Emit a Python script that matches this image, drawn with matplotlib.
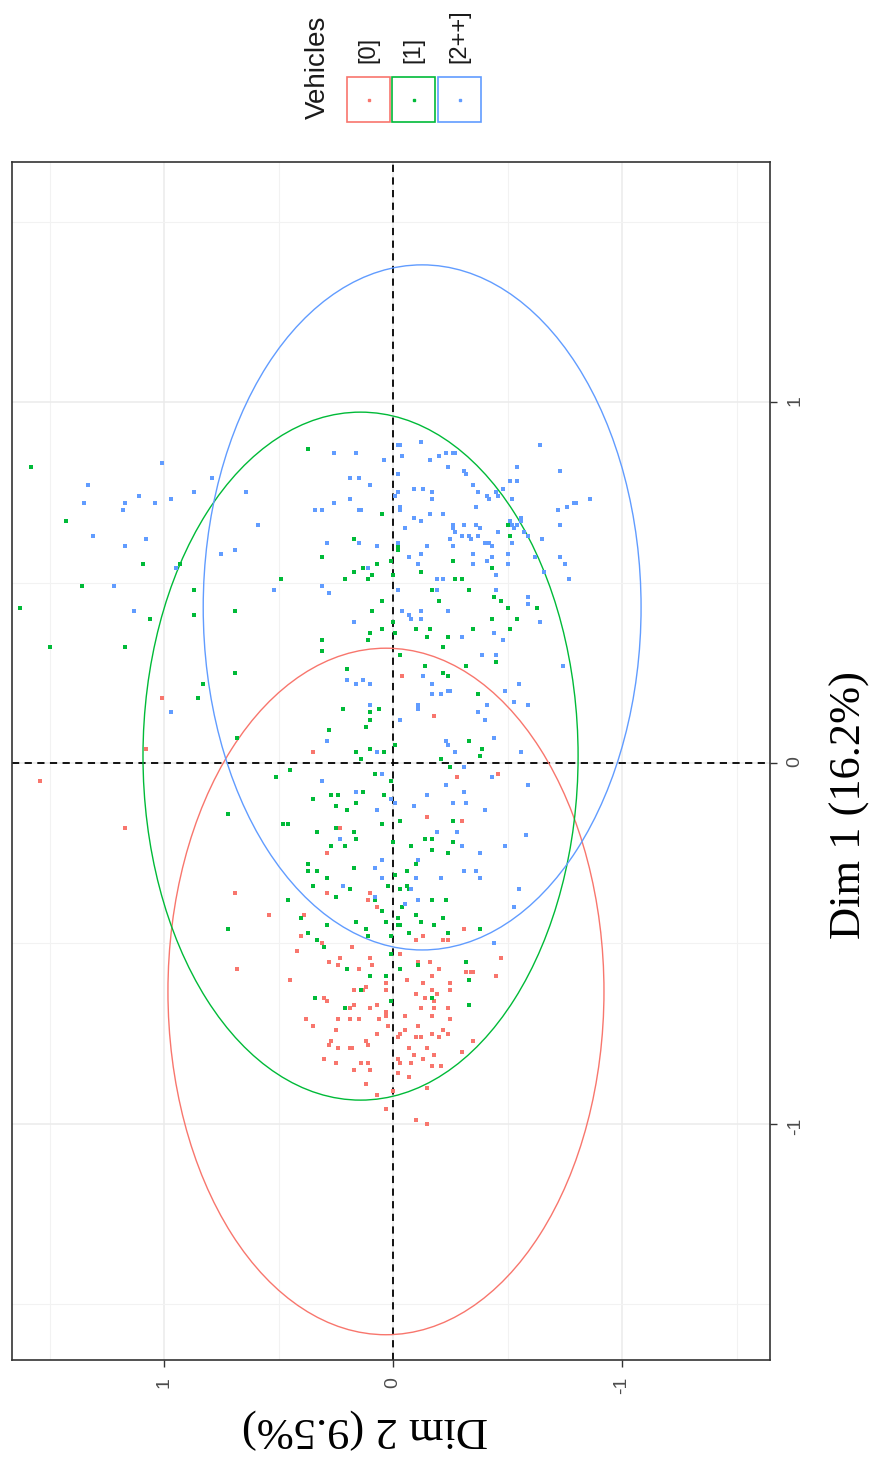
import matplotlib
matplotlib.use('Agg')
import matplotlib.pyplot as plt
from matplotlib.patches import Ellipse, Rectangle
from matplotlib.lines import Line2D

plt.rcParams['axes.unicode_minus'] = False

## Groups and ggplot default colours
groups = ['[0]', '[1]', '[2++]']
colors = ['#F8766D', '#00BA38', '#619CFF']

## Individuals as (Dim 1, Dim 2)
red_pts = [
    (0.18, 1.01), (0.04, 1.08), (-0.05, 1.54), (-0.18, 1.17),
    (0.03, 0.35), (-0.09, 0.24), (-0.18, 0.23), (-0.25, 0.29),
    (0.24, -0.04), (0.13, -0.18), (-0.04, -0.28), (-0.03, -0.46), (-0.15, -0.15), (-0.16, -0.30),
    (-0.36, 0.69), (-0.42, 0.54), (-0.57, 0.68), (-0.42, 0.39), (-0.36, 0.29), (-0.48, 0.40),
    (-0.52, 0.42), (-0.50, 0.31), (-0.55, 0.28), (-0.56, 0.24), (-0.54, 0.23), (-0.60, 0.45),
    (-0.65, 0.30), (-0.66, 0.29), (-0.71, 0.38), (-0.73, 0.35), (-0.71, 0.24), (-0.74, 0.25),
    (-0.77, 0.27), (-0.78, 0.28), (-0.79, 0.24), (-0.82, 0.30), (-0.83, 0.25), (-0.68, 0.19),
    (-0.71, 0.19), (-0.79, 0.19),
    (-0.38, 0.11), (-0.36, 0.10), (-0.40, 0.07), (-0.51, 0.18), (-0.54, 0.10), (-0.56, 0.09),
    (-0.57, 0.15), (-0.63, 0.17), (-0.62, 0.12), (-0.63, 0.13), (-0.67, 0.17), (-0.68, 0.10),
    (-0.67, 0.07), (-0.71, 0.15), (-0.71, 0.06), (-0.61, 0.03), (-0.63, 0.03), (-0.69, 0.03),
    (-0.70, 0.03), (-0.73, 0.02), (-0.75, 0.07), (-0.77, 0.12), (-0.78, 0.11), (-0.79, 0.18),
    (-0.83, 0.14), (-0.83, 0.11), (-0.85, 0.17), (-0.85, 0.10), (-0.89, 0.12), (-0.92, 0.07),
    (-0.96, 0.03),
    (-0.53, -0.03), (-0.55, -0.11), (-0.55, -0.16), (-0.57, -0.20), (-0.59, -0.17), (-0.60, -0.06),
    (-0.61, -0.13), (-0.61, -0.25), (-0.63, -0.17), (-0.64, -0.19), (-0.63, -0.25), (-0.64, -0.10),
    (-0.65, -0.14), (-0.66, -0.18), (-0.68, -0.18), (-0.68, -0.24), (-0.68, -0.12), (-0.70, -0.17),
    (-0.70, -0.05), (-0.71, -0.25), (-0.74, -0.05), (-0.73, -0.11), (-0.74, -0.22), (-0.75, -0.03),
    (-0.76, -0.02), (-0.76, -0.10), (-0.76, -0.12), (-0.75, -0.17), (-0.76, -0.20), (-0.75, -0.24),
    (-0.79, -0.07), (-0.79, -0.15), (-0.81, -0.09), (-0.82, -0.13), (-0.81, -0.18), (-0.82, -0.02),
    (-0.83, -0.03), (-0.83, -0.08), (-0.84, -0.17), (-0.84, -0.21), (-0.80, -0.30), (-0.86, -0.02),
    (-0.87, -0.07), (-0.90, -0.15), (-0.91, 0.00), (-0.99, -0.10), (-1.00, -0.15),
    (-0.46, -0.31), (-0.49, -0.10), (-0.48, -0.13), (-0.49, -0.22), (-0.49, -0.24), (-0.58, -0.32),
    (-0.58, -0.34), (-0.58, -0.35), (-0.59, -0.45), (-0.54, -0.47), (-0.77, -0.35),
]

green_pts = [
    (0.82, 1.58), (0.67, 1.43), (0.55, 1.09), (0.55, 0.93), (0.49, 1.36), (0.48, 0.87),
    (0.43, 1.63), (0.40, 1.06), (0.41, 0.87), (0.32, 1.50), (0.32, 1.17),
    (0.87, 0.37), (0.69, 0.05), (0.62, 0.17), (0.57, 0.31), (0.53, 0.17), (0.55, 0.07),
    (0.52, 0.09), (0.51, 0.11), (0.51, 0.21), (0.51, 0.49), (0.56, 0.01), (0.59, -0.02),
    (0.52, 0.00), (0.45, 0.05), (0.42, 0.09), (0.42, 0.69), (0.37, 0.05), (0.36, 0.10),
    (0.34, 0.11), (0.34, 0.31), (0.31, 0.31), (0.39, 0.00), (0.36, -0.01), (0.25, 0.69),
    (0.26, 0.20), (0.54, 0.13),
    (0.65, -0.38), (0.66, -0.50), (0.63, -0.51), (0.60, -0.02), (0.56, -0.26), (0.53, -0.12),
    (0.54, -0.43), (0.51, -0.27), (0.51, -0.30), (0.48, -0.17), (0.48, -0.33), (0.46, -0.44),
    (0.45, -0.47), (0.45, -0.20), (0.43, -0.50), (0.43, -0.63), (0.40, -0.43), (0.40, -0.54),
    (0.37, -0.10), (0.37, -0.16), (0.37, -0.35), (0.37, -0.51), (0.35, -0.15), (0.35, -0.24),
    (0.32, -0.22), (0.30, -0.03),
    (0.22, 0.83), (0.18, 0.85),
    (0.15, 0.22), (0.15, 0.06), (0.14, 0.10), (0.12, 0.10), (0.09, 0.28), (0.10, 0.12),
    (0.07, 0.68), (0.03, 0.16), (0.04, 0.10), (0.03, 0.04), (0.01, 0.14), (-0.02, 0.45),
    (-0.04, 0.51), (-0.03, 0.08), (-0.10, 0.35), (-0.09, 0.27), (-0.09, 0.24), (-0.08, 0.13),
    (-0.11, 0.16), (-0.12, 0.25), (-0.13, 0.20), (-0.09, 0.04), (-0.14, 0.72), (-0.17, 0.48),
    (-0.17, 0.46), (-0.17, 0.05), (-0.19, 0.33), (-0.18, 0.25), (-0.19, 0.17), (-0.21, 0.16),
    (-0.23, 0.21), (-0.23, 0.27), (-0.28, 0.37), (-0.30, 0.37), (-0.30, 0.33), (-0.32, 0.29),
    (-0.29, 0.17), (-0.34, 0.35), (-0.35, 0.19), (-0.34, 0.02), (-0.05, 0.01), (-0.16, -0.03),
    (0.27, -0.14), (0.25, -0.22), (0.24, -0.24), (0.27, -0.32), (0.28, -0.45), (0.19, -0.37),
    (0.05, -0.01), (0.06, -0.33), (0.04, -0.39), (0.02, -0.38), (0.01, -0.21), (-0.01, -0.25),
    (-0.16, -0.26), (-0.21, -0.14), (-0.21, -0.17), (-0.22, -0.26), (-0.23, -0.08), (-0.24, -0.17),
    (-0.25, -0.24), (-0.28, -0.10), (-0.30, -0.06), (-0.31, -0.01), (-0.34, -0.06), (-0.22, 0.00),
    (-0.46, 0.72), (-0.38, 0.46), (-0.37, 0.25), (-0.43, 0.40), (-0.47, 0.37), (-0.49, 0.33),
    (-0.45, 0.29), (-0.51, 0.30), (-0.57, 0.20), (-0.65, 0.34), (-0.68, 0.21),
    (-0.35, -0.03), (-0.35, -0.07), (-0.38, 0.08), (-0.40, -0.04), (-0.41, 0.05), (-0.38, -0.17),
    (-0.38, -0.23), (-0.42, -0.10), (-0.44, 0.16), (-0.44, 0.03), (-0.43, -0.02), (-0.45, -0.02),
    (-0.45, -0.03), (-0.44, -0.12), (-0.45, -0.18), (-0.43, -0.22), (-0.46, 0.12), (-0.47, -0.07),
    (-0.47, -0.24), (-0.46, -0.38), (-0.48, 0.11), (-0.48, 0.01), (-0.53, 0.01), (-0.56, -0.11),
    (-0.57, -0.03), (-0.59, 0.10), (-0.59, 0.03), (-0.55, -0.32), (-0.60, -0.33), (-0.63, 0.14),
    (-0.65, -0.17), (-0.66, 0.01), (-0.67, -0.33),
]

blue_pts = [
    (0.83, 1.01), (0.77, 1.33), (0.72, 1.35), (0.72, 1.17), (0.70, 1.18), (0.74, 1.11),
    (0.72, 1.04), (0.73, 0.97), (0.75, 0.87), (0.63, 1.31), (0.60, 1.17), (0.62, 1.08),
    (0.54, 0.95), (0.49, 1.22), (0.42, 1.13),
    (0.86, 0.26), (0.86, 0.16), (0.84, 0.04), (0.79, 0.79), (0.79, 0.19), (0.79, 0.15),
    (0.77, 0.10), (0.75, 0.64), (0.73, 0.19), (0.72, 0.26), (0.70, 0.34), (0.70, 0.31),
    (0.70, 0.15), (0.70, 0.14), (0.66, 0.59), (0.61, 0.15), (0.61, 0.29), (0.60, 0.07),
    (0.58, 0.75), (0.59, 0.69), (0.54, 0.11), (0.49, 0.31), (0.47, 0.28), (0.48, 0.52),
    (0.39, 0.17), (0.48, -0.02), (0.75, -0.02), (0.23, 0.20), (0.23, 0.13),
    (0.88, -0.02), (0.88, -0.03), (0.89, -0.12), (0.85, -0.04), (0.88, -0.64), (0.84, -0.16),
    (0.85, -0.20), (0.86, -0.23), (0.86, -0.26), (0.86, -0.27), (0.82, -0.24), (0.80, -0.02),
    (0.81, -0.31), (0.80, -0.32), (0.82, -0.54), (0.81, -0.73), (0.78, -0.51), (0.78, -0.54),
    (0.77, -0.35), (0.76, -0.48), (0.76, -0.09), (0.76, -0.13), (0.75, -0.17), (0.73, -0.17),
    (0.74, -0.01), (0.75, -0.37), (0.74, -0.41), (0.73, -0.42), (0.75, -0.45), (0.74, -0.46),
    (0.73, -0.52), (0.73, -0.86), (0.72, -0.79), (0.72, -0.80), (0.71, -0.76), (0.70, -0.72),
    (0.71, -0.03), (0.70, -0.03), (0.71, -0.36), (0.69, -0.16), (0.69, -0.22), (0.68, -0.09),
    (0.67, -0.12), (0.65, -0.05), (0.66, -0.26), (0.65, -0.26), (0.64, -0.27), (0.66, -0.31),
    (0.63, -0.30), (0.63, -0.33), (0.62, -0.34), (0.66, -0.36), (0.63, -0.37), (0.65, -0.38),
    (0.67, -0.51), (0.66, -0.52), (0.65, -0.53), (0.66, -0.54), (0.68, -0.56), (0.67, -0.56),
    (0.64, -0.57), (0.66, -0.73), (0.64, -0.46), (0.61, -0.02), (0.60, -0.15), (0.62, -0.25),
    (0.60, -0.26), (0.61, -0.40), (0.61, -0.42), (0.60, -0.43), (0.61, -0.52), (0.63, -0.59),
    (0.62, -0.65), (0.57, -0.07), (0.58, -0.12), (0.58, -0.35), (0.57, -0.43), (0.56, -0.41),
    (0.58, -0.50), (0.55, -0.11), (0.55, -0.35), (0.55, -0.50), (0.57, -0.62), (0.57, -0.73),
    (0.55, -0.75), (0.53, -0.66), (0.52, -0.45), (0.51, -0.77), (0.51, -0.19), (0.51, -0.22),
    (0.48, -0.19), (0.48, -0.45), (0.46, -0.59), (0.44, -0.59), (0.42, -0.04), (0.41, -0.07),
    (0.40, -0.08), (0.42, -0.12), (0.40, -0.12), (0.42, -0.24), (0.39, -0.64), (0.36, -0.44),
    (0.34, -0.48), (0.35, -0.30), (0.30, -0.39), (0.30, -0.45),
    (0.14, 0.97),
    (0.22, 0.16), (0.22, 0.10), (0.16, 0.10), (0.06, 0.29), (0.03, 0.07), (-0.03, 0.05),
    (-0.05, 0.31), (-0.08, 0.16), (-0.13, 0.07), (-0.11, -0.01), (-0.21, 0.23), (-0.27, 0.05),
    (-0.29, 0.08), (-0.32, 0.05), (-0.34, 0.22), (0.12, -0.03), (-0.10, 0.01),
    (0.27, -0.74), (0.24, -0.13), (0.22, -0.17), (0.19, -0.17), (0.19, -0.21), (0.20, -0.24),
    (0.20, -0.25), (0.22, -0.55), (0.20, -0.49), (0.17, -0.53), (0.16, -0.59), (0.16, -0.11),
    (0.15, -0.11), (0.14, -0.37), (0.16, -0.41), (0.12, -0.40), (0.07, -0.44), (0.06, -0.23),
    (0.05, -0.24), (0.03, -0.27), (0.03, -0.56), (-0.01, -0.31), (-0.04, -0.43), (-0.06, -0.23),
    (-0.06, -0.59), (-0.09, -0.15), (-0.08, -0.31), (-0.11, -0.26), (-0.11, -0.32), (-0.12, -0.09),
    (-0.13, -0.40), (-0.19, -0.19), (-0.19, -0.28), (-0.20, -0.58), (-0.23, -0.30), (-0.23, -0.49),
    (-0.27, -0.11), (-0.25, -0.38), (-0.30, -0.31), (-0.30, -0.36), (-0.32, -0.38), (-0.32, -0.21),
    (-0.32, -0.10), (-0.35, -0.55), (-0.35, -0.08),
    (-0.37, 0.08), (-0.39, -0.05), (-0.38, -0.11), (-0.40, -0.53), (-0.50, -0.44),
]

## Ellipse centres and half-axes (Dim 1, Dim 2) per group
ell_dim1 = [-0.633, 0.019, 0.431]
ell_dim2 = [0.031, 0.142, -0.127]
ell_r1 = [0.951, 0.953, 0.949]
ell_r2 = [0.952, 0.950, 0.956]

## Figure: the ggplot is turned a quarter turn, so Dim 2 runs along x (reversed)
fig = plt.figure(figsize=(8.75, 14.59), dpi=100)
ax = fig.add_axes([12 / 875, 1 - 1360 / 1459, 758 / 875, 1198 / 1459])

ax.set_xlim(1.664, -1.646)
ax.set_ylim(-1.654, 1.665)
ax.set_xticks([-1, 0, 1])
ax.set_xticklabels(['-1', '0', '1'])
ax.set_yticks([-1, 0, 1])
ax.set_yticklabels(['-1', '0', '1'])
ax.set_xticks([-1.5, -0.5, 0.5, 1.5], minor=True)
ax.set_yticks([-1.5, -0.5, 0.5, 1.5], minor=True)
ax.grid(which='major', color='#EBEBEB', lw=1.1)
ax.grid(which='minor', color='#F2F2F2', lw=0.8)
ax.set_axisbelow(True)

ax.axhline(0, color='black', ls=(0, (4, 3)), lw=1.3, zorder=1)
ax.axvline(0, color='black', ls=(0, (4, 3)), lw=1.3, zorder=1)

for pts, c in zip([red_pts, green_pts, blue_pts], colors):
    ax.scatter([p[1] for p in pts], [p[0] for p in pts], s=5, marker='s',
               color=c, lw=0, zorder=3)

for i, c in enumerate(colors):
    ax.add_patch(Ellipse((ell_dim2[i], ell_dim1[i]), 2 * ell_r2[i], 2 * ell_r1[i],
                         fill=False, edgecolor=c, lw=1.0, zorder=2))

for s in ax.spines.values():
    s.set_color('#333333')
    s.set_linewidth(1.2)

ax.yaxis.tick_right()
ax.yaxis.set_label_position('right')
ax.tick_params(axis='both', which='major', length=5, width=1, color='#333333',
               labelsize=14, labelcolor='#4D4D4D', labelrotation=90, pad=7)
ax.tick_params(axis='both', which='minor', length=0)
for t in ax.get_xticklabels() + ax.get_yticklabels():
    t.set_family('Liberation Sans')

ax.set_xlabel('Dim 2 (9.5%)', rotation=180, fontsize=32, family='Liberation Serif')
ax.set_ylabel('Dim 1 (16.2%)', rotation=90, fontsize=32, family='Liberation Serif')
ax.xaxis.set_label_coords(0.466, -0.040)
ax.yaxis.set_label_coords(1.078, 0.463)

## Legend, turned like the rest of the chart
fig.text(318 / 875, 1 - 67 / 1459, 'Vehicles', rotation=90, ha='center', va='center',
         fontsize=20, family='Liberation Sans', color='#1A1A1A')
key_left = [347, 392, 438]
for g, c, x0 in zip(groups, colors, key_left):
    fig.add_artist(Rectangle((x0 / 875, 1 - 122 / 1459), 43 / 875, 45 / 1459,
                             transform=fig.transFigure, fill=False, edgecolor=c, lw=1.2))
    xc = (x0 + 21.5) / 875
    fig.add_artist(Line2D([xc], [1 - 99.5 / 1459], marker='s', ms=2, color=c,
                          lw=0, transform=fig.transFigure))
    fig.text(xc, 1 - 63 / 1459, g, rotation=90, ha='center', va='bottom',
             fontsize=17, family='Liberation Sans', color='#1A1A1A')

fig.savefig('out.png', dpi=100)
